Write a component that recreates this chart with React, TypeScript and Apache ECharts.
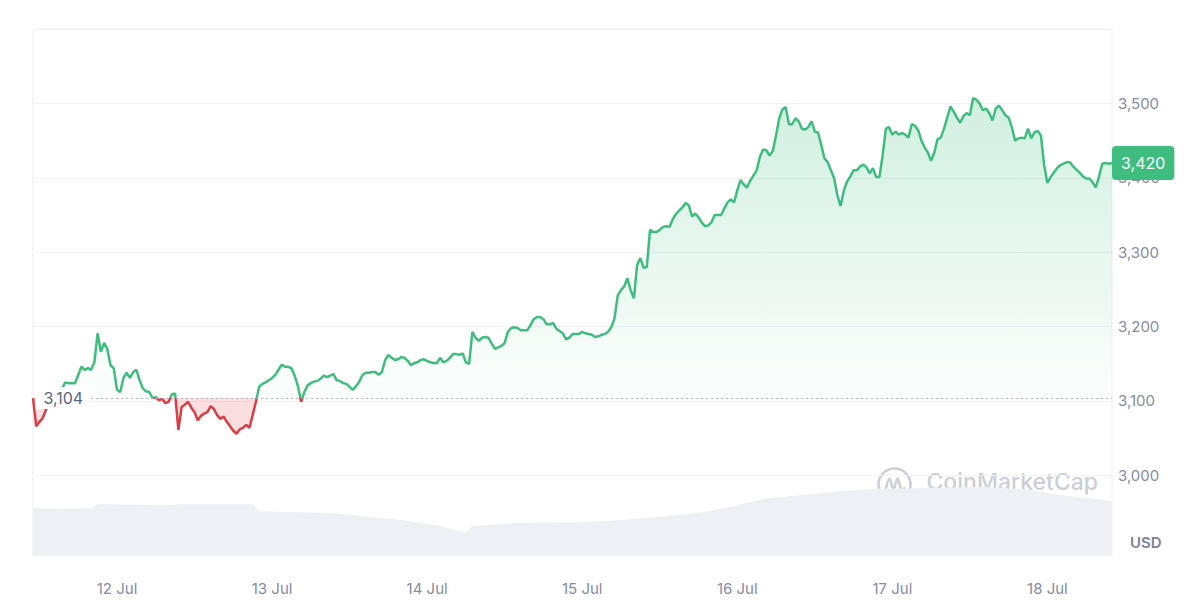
import React, { useEffect, useRef } from "react";
import * as echarts from "echarts";

// Half-hourly categories starting 11 Jul 11:00
const START_DAY = 11;
const START_HOUR = 11;
const STEPS_PER_HOUR = 2;
const CATEGORIES: string[] = Array.from({ length: 335 }, (_, j) => {
  const minutes = START_HOUR * 60 + j * 30;
  const day = START_DAY + Math.floor(minutes / 1440);
  const h = Math.floor((minutes % 1440) / 60);
  const m = minutes % 60;
  return `${day} Jul ${String(h).padStart(2, "0")}:${String(m).padStart(2, "0")}`;
});

// ETH price (USD), every 30 minutes
const PRICE: number[] = [
  3104, 3066, 3072, 3077, 3088, 3095, 3101, 3104, 3108, 3117,
  3125, 3124, 3124, 3124, 3135, 3146, 3142, 3144, 3142, 3152,
  3191, 3166, 3178, 3170, 3148, 3144, 3115, 3112, 3131, 3138,
  3131, 3139, 3142, 3128, 3117, 3113, 3112, 3104, 3105, 3101,
  3103, 3097, 3099, 3109, 3110, 3061, 3092, 3095, 3099, 3091,
  3085, 3074, 3080, 3083, 3085, 3093, 3089, 3081, 3076, 3079,
  3072, 3066, 3060, 3056, 3062, 3064, 3068, 3064, 3081, 3099,
  3119, 3123, 3125, 3128, 3131, 3135, 3142, 3149, 3146, 3146,
  3144, 3134, 3120, 3099, 3112, 3121, 3124, 3126, 3127, 3130,
  3134, 3132, 3134, 3136, 3128, 3127, 3124, 3123, 3119, 3115,
  3120, 3126, 3135, 3138, 3138, 3139, 3139, 3135, 3139, 3155,
  3162, 3158, 3155, 3156, 3159, 3158, 3154, 3148, 3151, 3152,
  3155, 3156, 3154, 3152, 3151, 3151, 3158, 3152, 3154, 3158,
  3163, 3163, 3162, 3164, 3152, 3150, 3193, 3185, 3181, 3185,
  3186, 3185, 3177, 3170, 3172, 3174, 3178, 3193, 3198, 3199,
  3198, 3195, 3195, 3195, 3202, 3210, 3213, 3213, 3210, 3203,
  3203, 3205, 3197, 3194, 3191, 3183, 3185, 3190, 3190, 3190,
  3193, 3191, 3190, 3189, 3186, 3187, 3189, 3190, 3193, 3199,
  3211, 3242, 3249, 3254, 3265, 3249, 3238, 3283, 3292, 3279,
  3280, 3330, 3327, 3327, 3330, 3334, 3335, 3334, 3344, 3351,
  3356, 3360, 3366, 3363, 3348, 3352, 3347, 3340, 3335, 3336,
  3340, 3350, 3350, 3350, 3359, 3367, 3371, 3367, 3383, 3397,
  3391, 3387, 3396, 3403, 3410, 3428, 3438, 3437, 3430, 3436,
  3457, 3480, 3492, 3495, 3472, 3472, 3480, 3476, 3466, 3465,
  3468, 3476, 3462, 3461, 3444, 3426, 3421, 3410, 3399, 3376,
  3362, 3383, 3395, 3402, 3410, 3410, 3415, 3418, 3414, 3406,
  3413, 3401, 3401, 3430, 3466, 3468, 3458, 3462, 3458, 3460,
  3458, 3454, 3472, 3470, 3464, 3450, 3441, 3434, 3423, 3434,
  3452, 3454, 3466, 3481, 3496, 3489, 3481, 3474, 3483, 3487,
  3484, 3507, 3505, 3500, 3491, 3493, 3487, 3477, 3493, 3497,
  3491, 3484, 3481, 3468, 3450, 3453, 3454, 3453, 3466, 3453,
  3461, 3463, 3457, 3417, 3393, 3401, 3407, 3413, 3417, 3419,
  3421, 3421, 3415, 3411, 3407, 3402, 3399, 3399, 3394, 3387,
  3402, 3419, 3420, 3419, 3420,
];

// 24h volume (billions USD) at selected hours since 11 Jul 11:00
const VOLUME_HOURS: number[] = [0, 4, 9, 10, 21, 23, 34, 35, 46, 49, 57, 63, 66, 67, 68, 75, 85, 91, 97, 103, 108, 113, 119, 125, 131, 139, 147, 153, 159, 167];
const VOLUME: number[] = [10.7, 10.5, 10.7, 11.6, 11.4, 11.6, 11.6, 10.0, 9.6, 9.1, 8.0, 6.6, 5.5, 5.2, 6.6, 7.3, 7.5, 8.0, 8.7, 9.6, 11.0, 12.8, 13.7, 14.6, 15.1, 15.3, 15.5, 15.1, 13.7, 12.3];

const Y_LABELS: number[] = [3000, 3100, 3200, 3300, 3400, 3500];
const BASE = 3104; // opening price
const CURRENT = 3420;

const GREEN = "#3fbd7f";
const RED = "#dc3d43";
const FONT = "Inter, 'Noto Sans', sans-serif";
const fmt = (v: number) => v.toLocaleString("en-US");

export default function App() {
  const ref = useRef<HTMLDivElement>(null);
  useEffect(() => {
    if (!ref.current) return;
    const chart = echarts.init(ref.current, null, { renderer: "svg" });
    const last = CATEGORIES.length - 1;
    const option: any = {
      animation: false,
      grid: {
        left: 33,
        right: 88,
        top: 29,
        bottom: 59,
        show: true,
        borderColor: "#eceef2",
        borderWidth: 1,
      },
      xAxis: {
        type: "category",
        data: CATEGORIES,
        boundaryGap: false,
        axisLine: { show: false },
        axisTick: { show: false },
        splitLine: { show: false },
        axisLabel: {
          interval: (_i: number, v: string) => v.endsWith(" 00:00"),
          formatter: (v: string) => v.split(" ").slice(0, 2).join(" "),
          color: "#858ca2",
          fontSize: 15,
          fontFamily: FONT,
          margin: 26,
        },
      },
      yAxis: [
        {
          type: "value",
          position: "right",
          min: 2893,
          max: 3600,
          splitNumber: 7,
          axisLine: { show: false },
          axisTick: { show: false },
          splitLine: { lineStyle: { color: "#f0f2f5", width: 1 } },
          axisLabel: {
            margin: 6,
            color: "#858ca2",
            fontSize: 15,
            fontFamily: FONT,
            formatter: (v: number) => (Y_LABELS.includes(v) ? fmt(v) : ""),
          },
        },
        { type: "value", min: 0, max: 120, show: false },
      ],
      visualMap: {
        show: false,
        type: "piecewise",
        seriesIndex: 0,
        dimension: 1,
        pieces: [
          { gte: 0, lt: BASE, color: RED },
          { gte: BASE, lte: 100000, color: GREEN },
        ],
      },
      series: [
        {
          type: "line",
          data: PRICE,
          symbol: "none",
          z: 4,
          lineStyle: { width: 2.5 },
          markLine: {
            silent: true,
            symbol: ["none", "none"],
            lineStyle: { color: "rgba(0,0,0,0)", width: 0 },
            data: [{ yAxis: CURRENT }],
            label: {
              show: true,
              position: "end",
              distance: 0,
              formatter: fmt(CURRENT),
              backgroundColor: GREEN,
              color: "#ffffff",
              fontSize: 16,
              fontFamily: FONT,
              padding: [9, 9, 9, 9],
              borderRadius: 4,
            },
          },
        },
        {
          type: "line",
          data: PRICE.map((v) => Math.max(v, BASE)),
          symbol: "none",
          silent: true,
          z: 2,
          lineStyle: { width: 0, opacity: 0 },
          areaStyle: {
            origin: BASE,
            color: new echarts.graphic.LinearGradient(0, 0, 0, 1, [
              { offset: 0, color: "rgba(63,189,127,0.34)" },
              { offset: 1, color: "rgba(63,189,127,0.02)" },
            ]),
          },
        },
        {
          type: "line",
          data: PRICE.map((v) => Math.min(v, BASE)),
          symbol: "none",
          silent: true,
          z: 2,
          lineStyle: { width: 0, opacity: 0 },
          areaStyle: { origin: BASE, color: "rgba(234,57,67,0.24)" },
          markLine: {
            silent: true,
            symbol: ["none", "none"],
            lineStyle: { color: "#a9b0bf", type: [2, 3], width: 1 },
            label: {
              show: true,
              position: "start",
              distance: 2,
              formatter: fmt(BASE),
              color: "#58667e",
              fontSize: 16,
              fontFamily: FONT,
              backgroundColor: "#ffffff",
              padding: [3, 6, 3, 8],
            },
            data: [[{ coord: [CATEGORIES[9 * STEPS_PER_HOUR], BASE] }, { coord: [CATEGORIES[last], BASE] }]],
          },
        },
        {
          type: "line",
          yAxisIndex: 1,
          data: VOLUME_HOURS.map((h, i) => [h * STEPS_PER_HOUR, VOLUME[i]]),
          symbol: "none",
          silent: true,
          z: 1,
          lineStyle: { width: 0, opacity: 0 },
          areaStyle: { color: "#eff0f5", opacity: 1 },
        },
      ],
      graphic: [
        {
          type: "text",
          left: 1130,
          top: 535,
          style: { text: "USD", fill: "#7b8295", fontSize: 15, fontWeight: 600, fontFamily: FONT },
        },
        {
          type: "group",
          left: 876,
          top: 466,
          z: 10,
          silent: true,
          children: [
            {
              type: "arc",
              shape: { cx: 17, cy: 17, r: 16, startAngle: Math.PI * 0.32, endAngle: Math.PI * 2.1, clockwise: true },
              style: { stroke: "#cbcfd7", lineWidth: 2.6, fill: "none" },
            },
            {
              type: "polyline",
              shape: {
                points: [[8, 23], [12, 11], [16, 22], [20, 11], [24, 22], [28, 20]],
                smooth: 0.35,
              },
              style: { stroke: "#cbcfd7", lineWidth: 2.6, fill: "none" },
            },
            {
              type: "text",
              left: 49,
              top: 3,
              style: { text: "CoinMarketCap", fill: "#cbcfd7", fontSize: 23, fontWeight: 500, fontFamily: FONT },
            },
          ],
        },
      ],
    };
    chart.setOption(option);
    return () => chart.dispose();
  }, []);
  return <div ref={ref} style={{ position: "absolute", left: 0, top: 0, width: 1200, height: 614 }} />;
}
